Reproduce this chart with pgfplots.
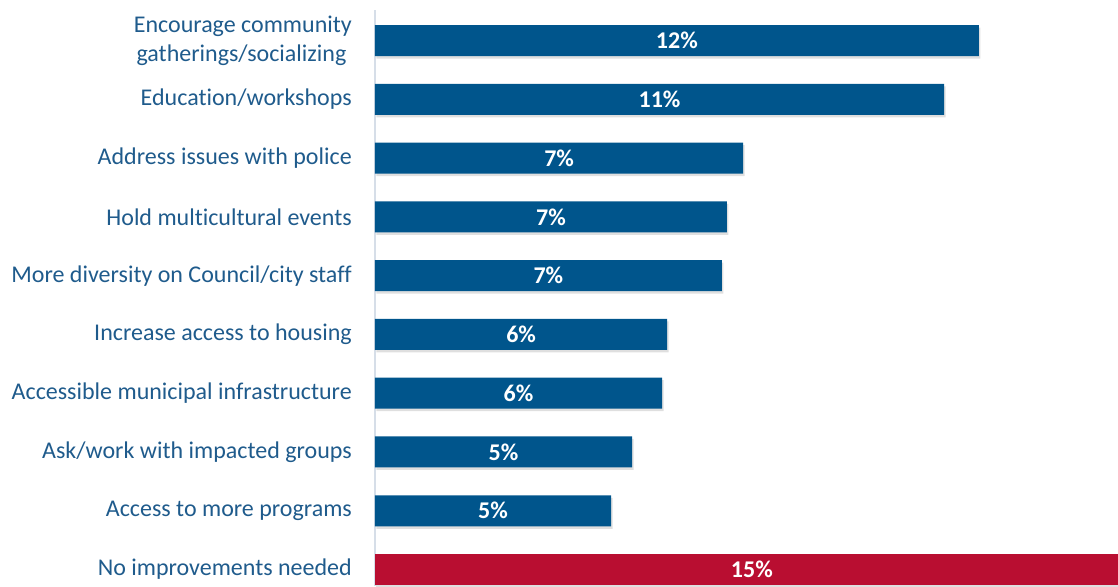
\documentclass[border=0pt]{standalone}
\usepackage{pgfplots}
\pgfplotsset{compat=1.18}
\usepackage{fontspec}
\setmainfont{Carlito}[Ligatures=NoCommon]
\usetikzlibrary{shadows}
\definecolor{barblue}{HTML}{00558C}
\definecolor{barred}{HTML}{B90E31}
\definecolor{labelcol}{HTML}{1F5B8C}
\definecolor{axcol}{HTML}{D6DEE8}
\begin{document}
\begin{tikzpicture}
\useasboundingbox (-375pt,0pt) rectangle (743pt,586pt);
\begin{axis}[
  at={(0pt,0pt)}, anchor=south west,
  scale only axis, width=743pt, height=576pt,
  xmin=0, xmax=14.57,
  ymin=-0.52, ymax=9.28, y dir=reverse,
  ytick={0,...,9},
  yticklabels={{Encourage community\\gatherings/socializing\ \ }, Education/workshops, Address issues with police, Hold multicultural events, More diversity on Council/city staff, Increase access to housing, Accessible municipal infrastructure, Ask/work with impacted groups, Access to more programs, No improvements needed},
  yticklabel style={inner sep=0pt, xshift=-23pt, align=right, font=\fontsize{24}{29}\selectfont, text=labelcol},
  major tick length=0pt,
  separate axis lines,
  axis x line=none,
  axis y line=left,
  y axis line style={-, draw=axcol, line width=1.2pt},
  xbar, bar shift=0pt, bar width=31pt,
]
\addplot[draw=none, fill=barblue, drop shadow={shadow xshift=1.5pt, shadow yshift=-2.5pt, opacity=0.25}] coordinates {
(11.84,0) (11.16,1) (7.22,2) (6.90,3) (6.80,4) (5.73,5) (5.63,6) (5.04,7) (4.63,8)};
\addplot[draw=none, fill=barred, drop shadow={shadow xshift=1.5pt, shadow yshift=-2.5pt, opacity=0.25}] coordinates {(14.78,9)};
\addplot[xbar=false, only marks, mark=none, point meta=explicit symbolic,
  nodes near coords, every node near coord/.style={anchor=center, text=white, font=\fontsize{24}{29}\selectfont\bfseries}]
  coordinates {
(5.92,0) [12\%] (5.58,1) [11\%] (3.61,2) [7\%] (3.45,3) [7\%] (3.40,4) [7\%] (2.865,5) [6\%] (2.815,6) [6\%] (2.52,7) [5\%] (2.315,8) [5\%] (7.39,9) [15\%]};
\end{axis}
\end{tikzpicture}
\end{document}
